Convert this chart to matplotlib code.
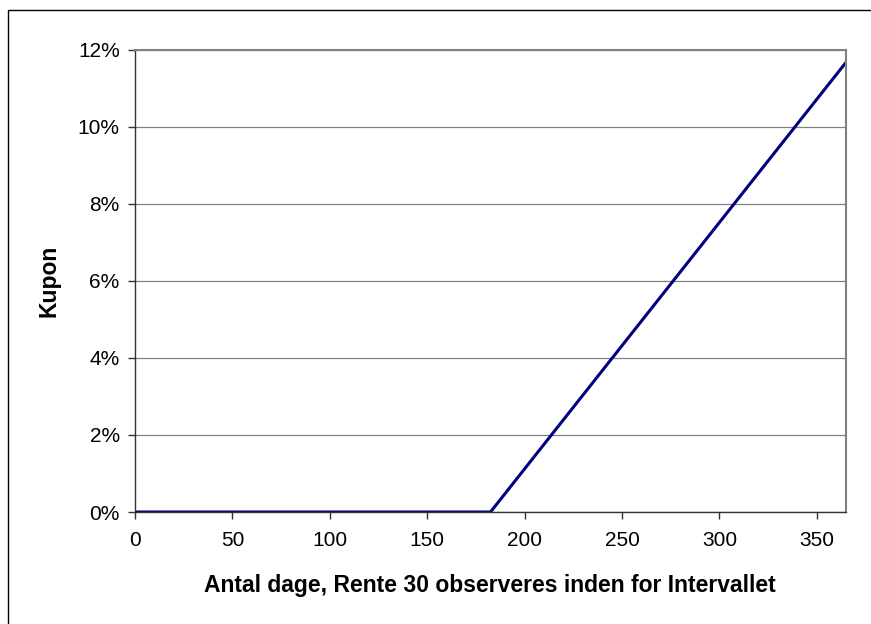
import matplotlib
matplotlib.use("Agg")
import matplotlib.pyplot as plt
from matplotlib.patches import Rectangle
from matplotlib.ticker import FuncFormatter

# data: days in interval vs coupon
dage = [0, 182.5, 365]
kupon = [0.0, 0.0, 0.1168]

plt.rcParams['font.family'] = ['Liberation Sans', 'DejaVu Sans']

fig = plt.figure(figsize=(8.71, 6.24), dpi=100)
fig.patches.append(Rectangle((8/871, -0.1), 1.2, 1 - 10/624 + 0.1,
                             transform=fig.transFigure, fill=False,
                             edgecolor='black', linewidth=1.0))

ax = fig.add_axes([135/871, 1 - 512/624, (846 - 135)/871, (512 - 50)/624])
ax.plot(dage, kupon, color='#000080', linewidth=2.2, solid_capstyle='butt')

ax.set_xlim(0, 365)
ax.set_ylim(0, 0.12)
ax.set_xticks(range(0, 351, 50))
ax.set_yticks([0, 0.02, 0.04, 0.06, 0.08, 0.10, 0.12])
ax.yaxis.set_major_formatter(FuncFormatter(lambda v, p: f"{v*100:.0f}%"))
ax.grid(axis='y', color='#808080', linewidth=0.9)
ax.set_axisbelow(True)

for s in ['left', 'bottom']:
    ax.spines[s].set_color('#333333')
    ax.spines[s].set_linewidth(1.0)
for s in ['top', 'right']:
    ax.spines[s].set_color('#808080')
    ax.spines[s].set_linewidth(1.5)

ax.tick_params(direction='out', length=5, width=1, color='#333333',
               labelsize=15)
ax.tick_params(axis='x', pad=9)
ax.tick_params(axis='y', pad=6)

ax.set_xlabel('Antal dage, Rente 30 observeres inden for Intervallet',
              fontsize=16.5, fontweight='bold', va='center')
ax.xaxis.set_label_coords(0.499, -0.159)
ax.set_ylabel('Kupon', fontsize=16.5, fontweight='bold', va='center')
ax.yaxis.set_label_coords(-0.121, 0.5)

fig.savefig('out.png', dpi=100)
